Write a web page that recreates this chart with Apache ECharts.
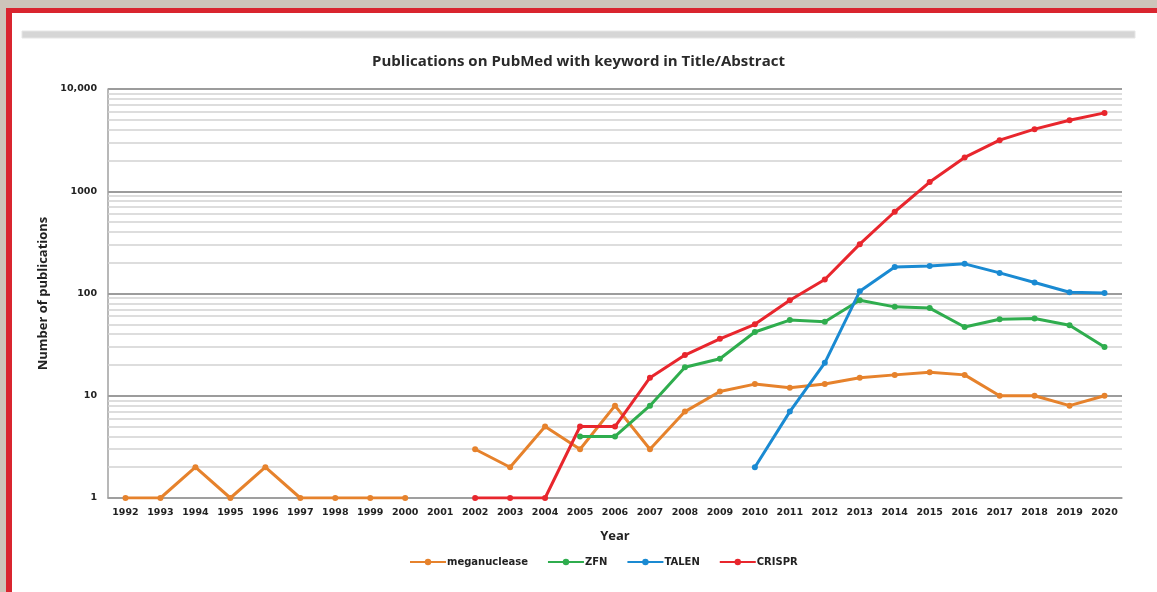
<!DOCTYPE html>
<html>
<head>
<meta charset="utf-8">
<script src="https://cdn.jsdelivr.net/npm/echarts@6/dist/echarts.min.js"></script>
<style>
html,body{margin:0;padding:0;background:#fff;}
#chart{width:1157px;height:592px;}
</style>
</head>
<body>
<div id="chart"></div>
<script>
const years = ['1992','1993','1994','1995','1996','1997','1998','1999','2000','2001','2002','2003','2004','2005','2006','2007','2008','2009','2010','2011','2012','2013','2014','2015','2016','2017','2018','2019','2020'];
const meganuclease = [1,1,2,1,2,1,1,1,1,'-',3,2,5,3,8,3,7,11,13,12,13,15,16,17,16,10,10,8,10];
const zfn = ['-','-','-','-','-','-','-','-','-','-','-','-','-',4,4,8,19,23,42,55,53,86,74,72,47,56,57,49,30];
const talen = ['-','-','-','-','-','-','-','-','-','-','-','-','-','-','-','-','-','-',2,7,21,105,182,186,195,159,128,103,101];
const crispr = ['-','-','-','-','-','-','-','-','-','-',1,1,1,5,5,15,25,36,50,86,137,304,630,1230,2140,3160,4050,4950,5840];
const seriesNames = ['meganuclease','ZFN','TALEN','CRISPR'];
const minorGridValues = [2,3,4,5,6,7,8,9,20,30,40,50,60,70,80,90,200,300,400,500,600,700,800,900,2000,3000,4000,5000,6000,7000,8000,9000];

const colors = ['#e6822c','#2fad4e','#1a8ad2','#e8262d'];
const chart = echarts.init(document.getElementById('chart'));
const font = 'DejaVu Sans';
function lineSeries(name, data, color){
  return {
    name: name, type: 'line', data: data, connectNulls: false,
    symbol: 'circle', symbolSize: 6, z: 5,
    itemStyle: {color: color},
    lineStyle: {color: color, width: 3}
  };
}
chart.setOption({
  animation: false,
  backgroundColor: '#ffffff',
  title: {
    text: 'Publications on PubMed with keyword in Title/Abstract',
    left: 'center', top: 49,
    textStyle: {fontFamily: 'Open Sans', fontSize: 15, fontWeight: 'bold', color: '#2a2a2a'}
  },
  graphic: [
    {type:'rect', shape:{x:0,y:0,width:1157,height:8}, style:{fill:'#cdc5ba'}, z:100},
    {type:'rect', shape:{x:0,y:0,width:6,height:592}, style:{fill:'#cdc5ba'}, z:100},
    {type:'rect', shape:{x:6,y:8,width:1151,height:5}, style:{fill:'#d9252f'}, z:101},
    {type:'rect', shape:{x:6,y:8,width:6,height:584}, style:{fill:'#d9252f'}, z:101},
    {type:'rect', shape:{x:22,y:31,width:1113,height:7}, style:{fill:'#d6d6d6', stroke:'#e6e6e6', lineWidth:1}, z:100}
  ],
  legend: {
    data: seriesNames,
    left: 404, top: 552,
    itemWidth: 36, itemHeight: 8, itemGap: 19,
    textStyle: {fontFamily: font, fontSize: 10, fontWeight: 'bold', color: '#222', padding: [0,0,0,-4]}
  },
  grid: {left: 108, right: 35, top: 89, bottom: 94},
  xAxis: {
    type: 'category', data: years, boundaryGap: true,
    name: 'Year', nameLocation: 'middle', nameGap: 32,
    nameTextStyle: {fontFamily: 'Open Sans', fontSize: 13, fontWeight: 'bold', color: '#222'},
    axisLine: {lineStyle: {color: '#a0a0a0', width: 1.5}},
    axisTick: {show: false},
    axisLabel: {fontFamily: font, fontSize: 9.5, fontWeight: 'bold', color: '#222', margin: 10, interval: 0}
  },
  yAxis: {
    type: 'log', logBase: 10, min: 1, max: 10000,
    name: 'Number of publications', nameLocation: 'middle', nameGap: 53,
    nameTextStyle: {fontFamily: 'Open Sans', fontSize: 13, fontWeight: 'bold', color: '#222'},
    axisLine: {show: true, lineStyle: {color: '#a0a0a0', width: 1.5}},
    axisTick: {show: false},
    axisLabel: {fontFamily: font, fontSize: 9.5, fontWeight: 'bold', color: '#222', margin: 11,
      formatter: function(v){ return v >= 10000 ? '10,000' : String(v); }},
    splitLine: {show: true, lineStyle: {color: '#9c9c9c', width: 2}}
  },
  series: [
    {
      name: 'grid', type: 'line', data: [], silent: true, z: 1,
      markLine: {
        silent: true, symbol: 'none', label: {show: false},
        lineStyle: {color: '#d2d2d2', width: 1.5, type: 'solid'},
        data: minorGridValues.map(v => ({yAxis: v}))
      }
    },
    lineSeries('meganuclease', meganuclease, colors[0]),
    lineSeries('ZFN', zfn, colors[1]),
    lineSeries('TALEN', talen, colors[2]),
    lineSeries('CRISPR', crispr, colors[3])
  ]
});
</script>
</body>
</html>
